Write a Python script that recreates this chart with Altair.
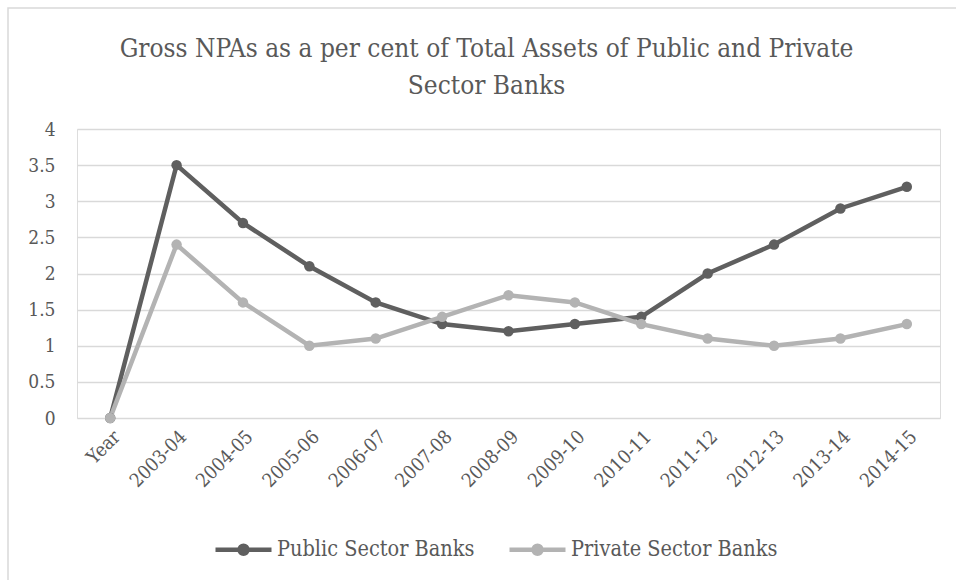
import altair as alt
import pandas as pd

years = ["Year", "2003-04", "2004-05", "2005-06", "2006-07", "2007-08", "2008-09",
         "2009-10", "2010-11", "2011-12", "2012-13", "2013-14", "2014-15"]
public = [0, 3.5, 2.7, 2.1, 1.6, 1.3, 1.2, 1.3, 1.4, 2.0, 2.4, 2.9, 3.2]
private = [0, 2.4, 1.6, 1.0, 1.1, 1.4, 1.7, 1.6, 1.3, 1.1, 1.0, 1.1, 1.3]
series = ["Public Sector Banks", "Private Sector Banks"]
colors = ["#5f5f5f", "#b3b3b3"]
y_ticks = [0, 0.5, 1, 1.5, 2, 2.5, 3, 3.5, 4]

rows = []
for i, yr in enumerate(years):
    rows.append({"year": yr, "order": i, "series": series[0], "value": public[i]})
for i, yr in enumerate(years):
    rows.append({"year": yr, "order": i, "series": series[1], "value": private[i]})
df = pd.DataFrame(rows)

FONT = "DejaVu Serif Condensed, DejaVu Serif"
TXT = "#595959"

r1, r2 = 0.143, 0.054
sym = ("M-1,0L1,0"
       f"M{r1},0A{r1},{r1},0,1,1,-{r1},0A{r1},{r1},0,1,1,{r1},0"
       f"M{r2},0A{r2},{r2},0,1,1,-{r2},0A{r2},{r2},0,1,1,{r2},0")

x_enc = alt.X("year:N", sort=years,
              scale=alt.Scale(type="point", padding=0.5),
              axis=alt.Axis(title=None, labelAngle=-45, labelFont=FONT,
                            labelFontSize=19, labelColor=TXT, ticks=False,
                            domain=False, grid=False, labelPadding=9))
y_enc = alt.Y("value:Q", scale=alt.Scale(domain=[0, 4], nice=False),
              axis=alt.Axis(title=None, values=y_ticks, format="~g",
                            labelFont=FONT, labelFontSize=19, labelColor=TXT,
                            ticks=False, domain=False, grid=True,
                            gridColor="#d9d9d9", gridWidth=1.5,
                            labelPadding=22))
color_enc = alt.Color("series:N", sort=series,
                      scale=alt.Scale(domain=series, range=colors),
                      legend=alt.Legend(title=None, orient="none",
                                        direction="horizontal",
                                        legendX=136, legendY=390,
                                        symbolType=sym, symbolSize=3136,
                                        symbolStrokeWidth=4.5,
                                        labelFont=FONT, labelFontSize=21.5,
                                        labelColor=TXT, labelOffset=3,
                                        labelLimit=400,
                                        columnPadding=25))

base = alt.Chart(df).encode(x=x_enc, y=y_enc, color=color_enc,
                            detail="series:N", order="order:Q")
lines = base.mark_line(strokeWidth=4.5)
points = base.mark_point(filled=True, size=110, opacity=1)

border = alt.Chart(alt.Data(values=[{"a": 1}])).mark_rect(
    fill=None, stroke="#d9d9d9", strokeWidth=1.5
).encode(x=alt.value(-69), x2=alt.value(900), y=alt.value(-121), y2=alt.value(470))

chart = alt.layer(border, lines, points).properties(
    width=863, height=289,
    autosize=alt.AutoSizeParams(type="none"),
    padding={"left": 77, "top": 129, "right": 16, "bottom": 162},
    title=alt.TitleParams(
        text=["Gross NPAs as a per cent of Total Assets of Public and Private",
              "Sector Banks"],
        font=FONT, fontSize=26, fontWeight="normal", color=TXT,
        anchor="middle", dx=-22, offset=-92, lineHeight=37),
).configure_view(stroke=None).configure(background="white")

chart.save("out.html", embed_options={"renderer": "svg", "actions": False})
